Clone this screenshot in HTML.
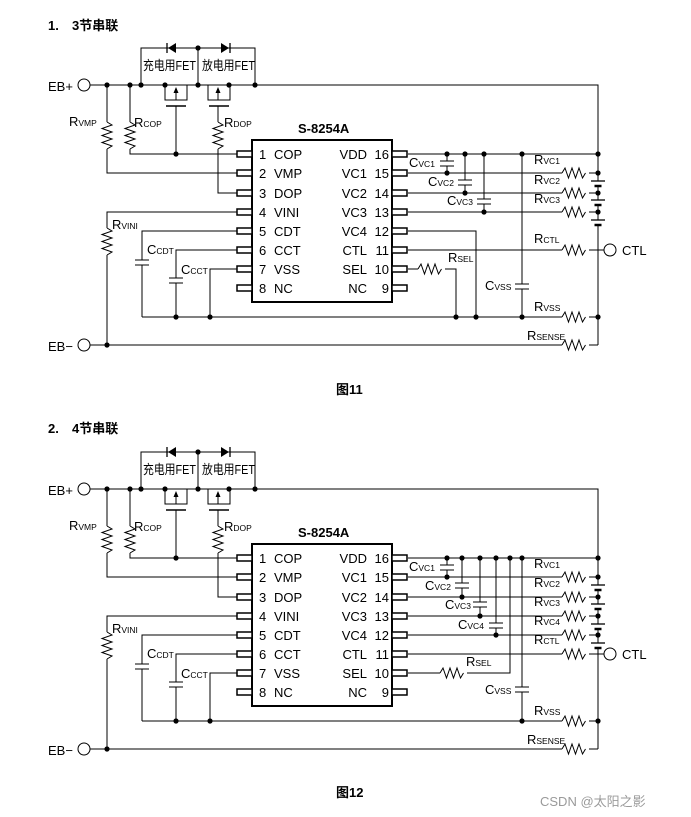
<!DOCTYPE html>
<html><head><meta charset="utf-8"><style>
html,body{margin:0;padding:0;background:#fff;}
svg{display:block;}
text{font-family:"Liberation Sans","Noto Sans CJK SC",sans-serif;font-size:13px;fill:#000;}
.s{font-size:8.5px;}
.w{fill:none;stroke:#000;stroke-width:1;}
</style></head><body>
<svg width="691" height="817" viewBox="0 0 691 817" xmlns="http://www.w3.org/2000/svg">
<defs>
<path id="rh" d="M0 0 l3 -5 l3.5 10 l3.5 -10 l3.5 10 l3.5 -10 l3.5 10 l3 -5" fill="none" stroke="#000"/>
<path id="rv" d="M0 0 l5 3 l-10 3.5 l10 3.5 l-10 3.5 l10 3.5 l-10 3.5 l10 3.5 l-5 3" fill="none" stroke="#000"/>
<g id="bat"><line x1="591" y1="0" x2="605" y2="0" stroke="#000" stroke-width="1.3"/><line x1="594.5" y1="5" x2="601.5" y2="5" stroke="#000" stroke-width="2.5"/></g>
<g id="L">
<circle cx="84" cy="85" r="6" fill="#fff" stroke="#000"/>
<path class="w" d="M90 85 H598 V154"/>
<path class="w" d="M141 85 V48 H255 V85 M198 48 V85"/>
<polygon points="168,48 176,43 176,53"/><line x1="167" y1="43" x2="167" y2="53" stroke="#000" stroke-width="1.3"/>
<polygon points="229,48 221,43 221,53"/><line x1="230" y1="43" x2="230" y2="53" stroke="#000" stroke-width="1.3"/>
<text x="143" y="70" font-size="12" textLength="53" lengthAdjust="spacingAndGlyphs">充电用FET</text><text x="202" y="70" font-size="12" textLength="53" lengthAdjust="spacingAndGlyphs">放电用FET</text>
<path class="w" d="M165 85 V100 H187 V85 M208 85 V100 H230 V85"/>
<path class="w" d="M176 100 V91 M218 100 V91"/>
<polygon points="176,87 173.5,93 178.5,93"/><polygon points="218,87 215.5,93 220.5,93"/>
<path d="M166 106 H186 M209 106 H229" stroke="#000" stroke-width="1.6"/>
<path class="w" d="M176 106 V154 H237 M218 106 V122 M218 149 V193 H237"/>
<use href="#rv" x="218" y="122"/>
<path class="w" d="M107 85 V122 M107 149 V173 H237 M130 85 V122 M130 149 V154 H176"/>
<use href="#rv" x="107" y="122"/><use href="#rv" x="130" y="122"/>
<rect x="252" y="140" width="140" height="162" fill="#fff" stroke="#000" stroke-width="2"/>
<g fill="#fff" stroke="#000" stroke-width="1.5">
<rect x="237" y="151" width="15" height="6"/><rect x="237" y="170" width="15" height="6"/><rect x="237" y="190" width="15" height="6"/><rect x="237" y="209" width="15" height="6"/><rect x="237" y="228" width="15" height="6"/><rect x="237" y="247" width="15" height="6"/><rect x="237" y="266" width="15" height="6"/><rect x="237" y="285" width="15" height="6"/>
<rect x="392" y="151" width="15" height="6"/><rect x="392" y="170" width="15" height="6"/><rect x="392" y="190" width="15" height="6"/><rect x="392" y="209" width="15" height="6"/><rect x="392" y="228" width="15" height="6"/><rect x="392" y="247" width="15" height="6"/><rect x="392" y="266" width="15" height="6"/><rect x="392" y="285" width="15" height="6"/>
</g>
<text x="298" y="133" font-weight="bold">S-8254A</text>
<g><text x="259" y="159">1</text><text x="274" y="159">COP</text>
<text x="259" y="178">2</text><text x="274" y="178">VMP</text>
<text x="259" y="198">3</text><text x="274" y="198">DOP</text>
<text x="259" y="217">4</text><text x="274" y="217">VINI</text>
<text x="259" y="236">5</text><text x="274" y="236">CDT</text>
<text x="259" y="255">6</text><text x="274" y="255">CCT</text>
<text x="259" y="274">7</text><text x="274" y="274">VSS</text>
<text x="259" y="293">8</text><text x="274" y="293">NC</text></g>
<g text-anchor="end"><text x="367" y="159">VDD</text><text x="389" y="159">16</text>
<text x="367" y="178">VC1</text><text x="389" y="178">15</text>
<text x="367" y="198">VC2</text><text x="389" y="198">14</text>
<text x="367" y="217">VC3</text><text x="389" y="217">13</text>
<text x="367" y="236">VC4</text><text x="389" y="236">12</text>
<text x="367" y="255">CTL</text><text x="389" y="255">11</text>
<text x="367" y="274">SEL</text><text x="389" y="274">10</text>
<text x="367" y="293">NC</text><text x="389" y="293">9</text></g>
<path class="w" d="M237 212 H107 V228 M107 255 V345"/><use href="#rv" x="107" y="228"/>
<path class="w" d="M237 231 H142 V260 M142 265 V317 M237 250 H176 V278 M176 283 V317 M237 269 H210 V317"/>
<path class="w" d="M135 260 H149 M135 265 H149 M169 278 H183 M169 283 H183" stroke-width="1.3"/>
<circle cx="84" cy="345" r="6" fill="#fff" stroke="#000"/>
<path class="w" d="M90 345 H562 M589 345 H598"/><use href="#rh" x="562" y="345"/>
<g><circle cx="107" cy="85" r="2.6"/><circle cx="130" cy="85" r="2.6"/><circle cx="141" cy="85" r="2.6"/><circle cx="165" cy="85" r="2.6"/><circle cx="198" cy="85" r="2.6"/><circle cx="229" cy="85" r="2.6"/><circle cx="255" cy="85" r="2.6"/><circle cx="198" cy="48" r="2.6"/><circle cx="176" cy="154" r="2.6"/><circle cx="107" cy="345" r="2.6"/><circle cx="176" cy="317" r="2.6"/><circle cx="210" cy="317" r="2.6"/></g>
<text x="48" y="91">EB+</text><text x="48" y="351">EB−</text>
<text x="69" y="126">R<tspan class="s">VMP</tspan></text>
<text x="134" y="127">R<tspan class="s">COP</tspan></text>
<text x="224" y="127">R<tspan class="s">DOP</tspan></text>
<text x="112" y="229">R<tspan class="s">VINI</tspan></text>
<text x="147" y="254">C<tspan class="s">CDT</tspan></text>
<text x="181" y="274">C<tspan class="s">CCT</tspan></text>
<circle cx="610" cy="250" r="6" fill="#fff" stroke="#000"/>
<path class="w" d="M589 250 H604"/>
<text x="622" y="255">CTL</text>
<text x="485" y="290">C<tspan class="s">VSS</tspan></text>
<text x="534" y="311">R<tspan class="s">VSS</tspan></text>
<text x="527" y="340">R<tspan class="s">SENSE</tspan></text>
</g>
</defs>

<text x="48" y="30" font-weight="bold" font-size="12">1.</text><text x="72" y="30" font-weight="bold" font-size="12">3节串联</text>
<use href="#L"/>
<path class="w" d="M408 154 H598 M598 154 V181 M598 186 V200 M598 205 V220 M598 225 V345"/>
<use href="#bat" y="181"/><use href="#bat" y="200"/><use href="#bat" y="220"/>
<path class="w" d="M408 173 H562 M589 173 H598 M408 193 H562 M589 193 H598 M408 212 H562 M589 212 H598 M408 250 H562 M142 317 H562 M589 317 H598"/>
<use href="#rh" x="562" y="173"/><use href="#rh" x="562" y="193"/><use href="#rh" x="562" y="212"/><use href="#rh" x="562" y="250"/><use href="#rh" x="562" y="317"/>
<path class="w" d="M447 154 V161 M447 166 V173 M465 154 V180 M465 185 V193 M484 154 V199 M484 204 V212 M522 154 V284 M522 289 V317"/>
<path class="w" d="M440 161 H454 M440 166 H454 M458 180 H472 M458 185 H472 M477 199 H491 M477 204 H491 M515 284 H529 M515 289 H529" stroke-width="1.3"/>
<path class="w" d="M408 231 H476 V317 M408 269 H418 M445 269 H456 V317"/><use href="#rh" x="418" y="269"/>
<g><circle cx="447" cy="154" r="2.6"/><circle cx="465" cy="154" r="2.6"/><circle cx="484" cy="154" r="2.6"/><circle cx="522" cy="154" r="2.6"/><circle cx="598" cy="154" r="2.6"/><circle cx="447" cy="173" r="2.6"/><circle cx="465" cy="193" r="2.6"/><circle cx="484" cy="212" r="2.6"/><circle cx="598" cy="173" r="2.6"/><circle cx="598" cy="193" r="2.6"/><circle cx="598" cy="212" r="2.6"/><circle cx="456" cy="317" r="2.6"/><circle cx="476" cy="317" r="2.6"/><circle cx="522" cy="317" r="2.6"/><circle cx="598" cy="317" r="2.6"/></g>
<text x="409" y="167">C<tspan class="s">VC1</tspan></text>
<text x="428" y="186">C<tspan class="s">VC2</tspan></text>
<text x="447" y="205">C<tspan class="s">VC3</tspan></text>
<text x="534" y="164">R<tspan class="s">VC1</tspan></text>
<text x="534" y="184">R<tspan class="s">VC2</tspan></text>
<text x="534" y="203">R<tspan class="s">VC3</tspan></text>
<text x="534" y="243">R<tspan class="s">CTL</tspan></text>
<text x="448" y="262">R<tspan class="s">SEL</tspan></text>
<text x="336" y="394" font-weight="bold" font-size="12">图11</text>

<text x="48" y="433" font-weight="bold" font-size="12">2.</text><text x="72" y="433" font-weight="bold" font-size="12">4节串联</text>
<g transform="translate(0,404)">
<use href="#L"/>
<path class="w" d="M408 154 H598 M598 154 V181 M598 186 V200 M598 205 V220 M598 225 V239 M598 244 V345"/>
<use href="#bat" y="181"/><use href="#bat" y="200"/><use href="#bat" y="220"/><use href="#bat" y="239"/>
<path class="w" d="M408 173 H562 M589 173 H598 M408 193 H562 M589 193 H598 M408 212 H562 M589 212 H598 M408 231 H562 M589 231 H598 M408 250 H562 M142 317 H562 M589 317 H598"/>
<use href="#rh" x="562" y="173"/><use href="#rh" x="562" y="193"/><use href="#rh" x="562" y="212"/><use href="#rh" x="562" y="231"/><use href="#rh" x="562" y="250"/><use href="#rh" x="562" y="317"/>
<path class="w" d="M447 154 V161 M447 166 V173 M462 154 V179 M462 184 V193 M480 154 V198 M480 203 V212 M496 154 V219 M496 224 V231 M522 154 V283 M522 288 V317"/>
<path class="w" d="M440 161 H454 M440 166 H454 M455 179 H469 M455 184 H469 M473 198 H487 M473 203 H487 M489 219 H503 M489 224 H503 M515 283 H529 M515 288 H529" stroke-width="1.3"/>
<path class="w" d="M408 269 H440 M467 269 H510 V154"/><use href="#rh" x="440" y="269"/>
<g><circle cx="447" cy="154" r="2.6"/><circle cx="462" cy="154" r="2.6"/><circle cx="480" cy="154" r="2.6"/><circle cx="496" cy="154" r="2.6"/><circle cx="510" cy="154" r="2.6"/><circle cx="522" cy="154" r="2.6"/><circle cx="598" cy="154" r="2.6"/><circle cx="447" cy="173" r="2.6"/><circle cx="462" cy="193" r="2.6"/><circle cx="480" cy="212" r="2.6"/><circle cx="496" cy="231" r="2.6"/><circle cx="598" cy="173" r="2.6"/><circle cx="598" cy="193" r="2.6"/><circle cx="598" cy="212" r="2.6"/><circle cx="598" cy="231" r="2.6"/><circle cx="522" cy="317" r="2.6"/><circle cx="598" cy="317" r="2.6"/></g>
<text x="409" y="167">C<tspan class="s">VC1</tspan></text>
<text x="425" y="186">C<tspan class="s">VC2</tspan></text>
<text x="445" y="205">C<tspan class="s">VC3</tspan></text>
<text x="458" y="225">C<tspan class="s">VC4</tspan></text>
<text x="534" y="164">R<tspan class="s">VC1</tspan></text>
<text x="534" y="183">R<tspan class="s">VC2</tspan></text>
<text x="534" y="202">R<tspan class="s">VC3</tspan></text>
<text x="534" y="221">R<tspan class="s">VC4</tspan></text>
<text x="534" y="240">R<tspan class="s">CTL</tspan></text>
<text x="466" y="262">R<tspan class="s">SEL</tspan></text>
</g>
<text x="336" y="797" font-weight="bold" font-size="12">图12</text>
<text x="540" y="806" style="fill:#9a9a9a;font-size:13px">CSDN @太阳之影</text>
</svg>
</body></html>
